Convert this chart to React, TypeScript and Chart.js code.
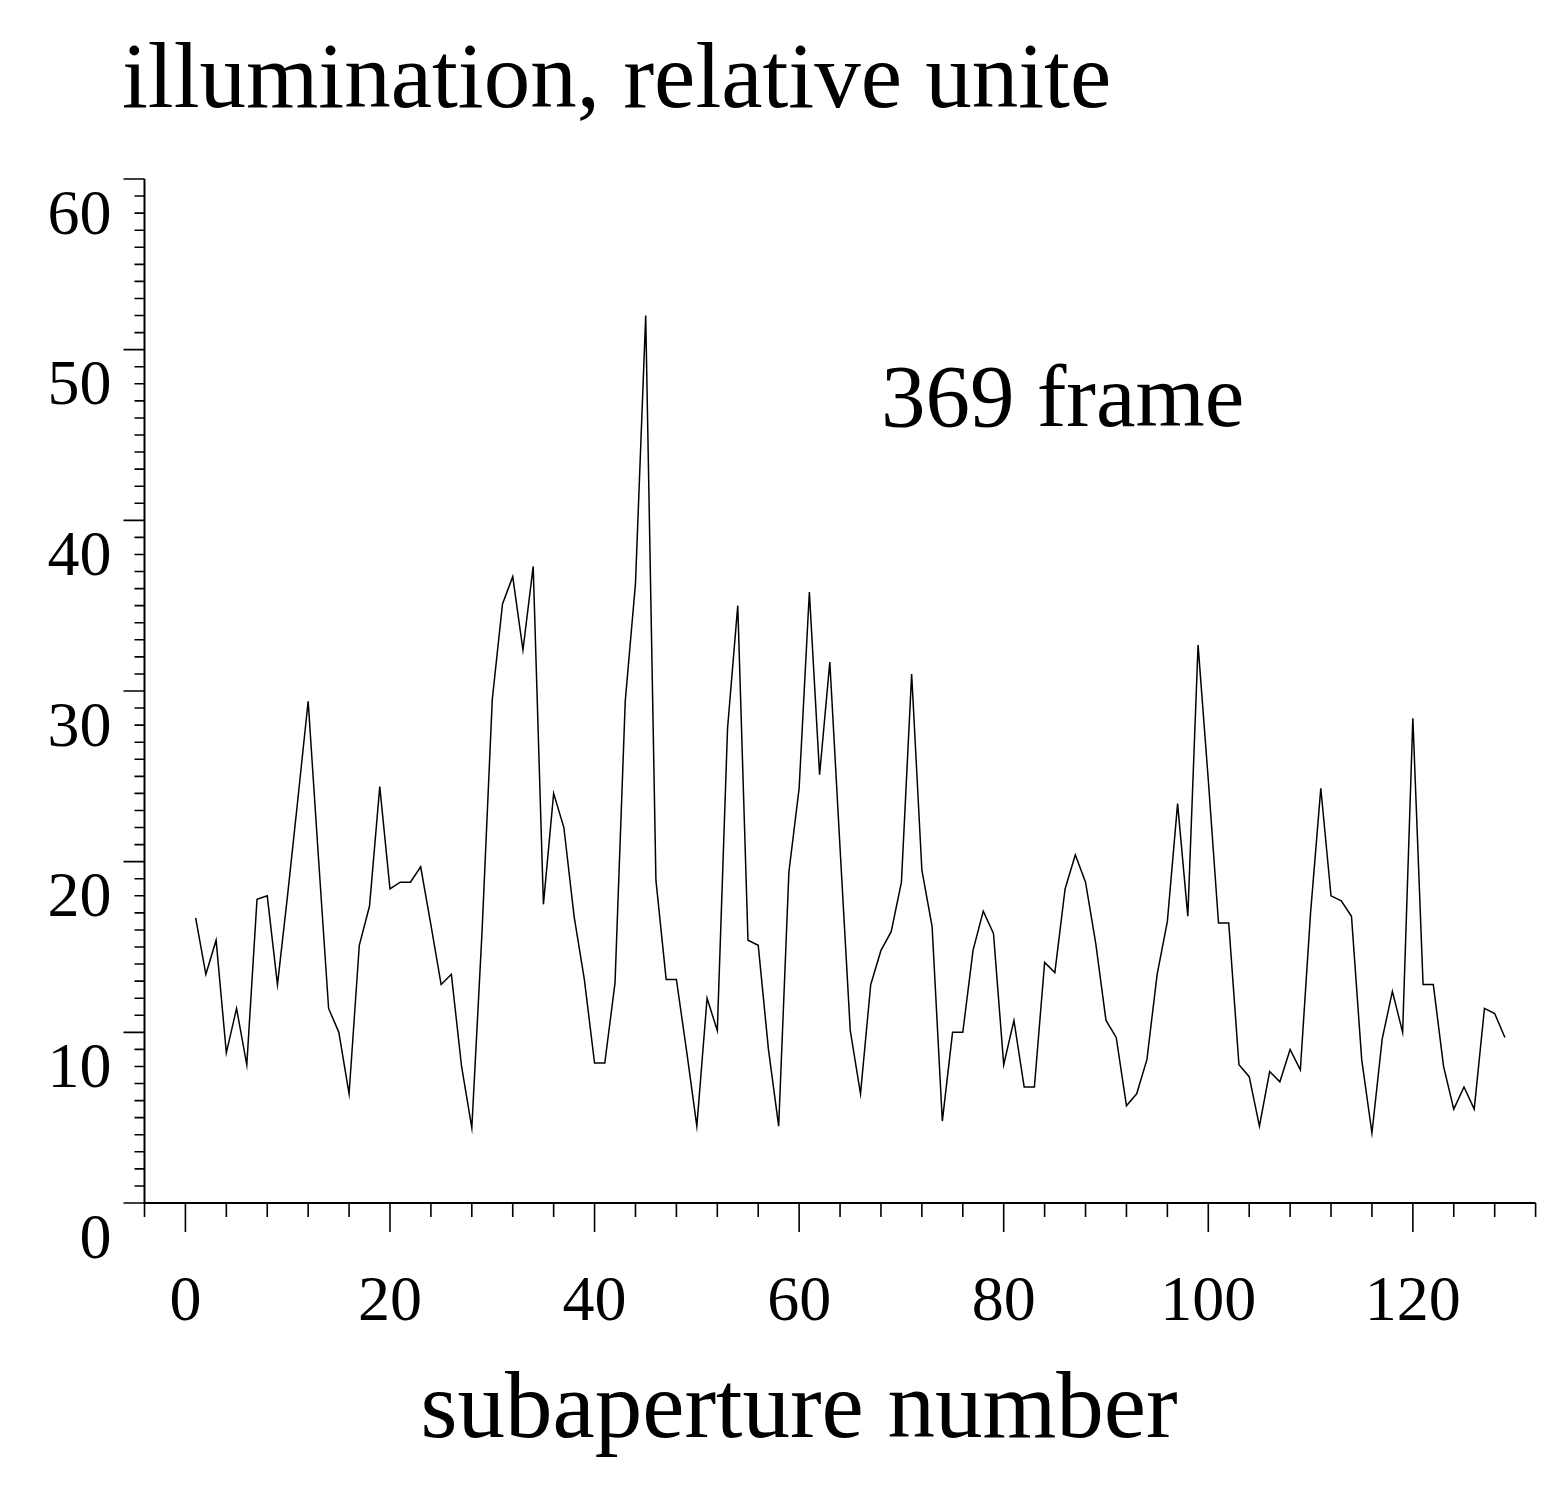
import React, { useEffect, useRef } from "react";
import { Chart, registerables } from "chart.js";

Chart.register(...registerables);

// illumination of subapertures 1..129 (relative units), frame 369
const illumination: number[] = [
  16.7, 13.4, 15.4, 8.8, 11.4, 8.1, 17.8, 18.0, 12.8, 18.1,
  23.7, 29.4, 20.3, 11.4, 10.0, 6.4, 15.1, 17.4, 24.4, 18.4,
  18.8, 18.8, 19.7, 16.3, 12.8, 13.4, 8.0, 4.4, 15.9, 29.5,
  35.1, 36.7, 32.4, 37.3, 17.5, 24.0, 22.0, 16.8, 13.1, 8.2,
  8.2, 12.9, 29.4, 36.3, 52.0, 18.9, 13.1, 13.1, 8.9, 4.5,
  12.0, 10.1, 27.8, 35.0, 15.4, 15.1, 9.0, 4.5, 19.4, 24.3,
  35.8, 25.1, 31.7, 20.8, 10.1, 6.4, 12.8, 14.8, 15.9, 18.8,
  31.0, 19.5, 16.2, 4.8, 10.0, 10.0, 14.8, 17.1, 15.8, 8.1,
  10.7, 6.8, 6.8, 14.1, 13.5, 18.4, 20.4, 18.8, 15.2, 10.7,
  9.7, 5.7, 6.4, 8.4, 13.4, 16.5, 23.4, 16.8, 32.7, 24.8,
  16.4, 16.4, 8.1, 7.4, 4.5, 7.7, 7.1, 9.0, 7.8, 17.0,
  24.3, 18.0, 17.7, 16.8, 8.4, 4.1, 9.6, 12.4, 10.0, 28.4,
  12.8, 12.8, 8.0, 5.5, 6.8, 5.5, 11.4, 11.1, 9.7,
];
const firstSubaperture = 1;

const xTickLabels: number[] = [0, 20, 40, 60, 80, 100, 120];
const yTickLabels: number[] = [0, 10, 20, 30, 40, 50, 60];

const chartTitle = "illumination, relative unite";
const xAxisTitle = "subaperture number";
const frameLabel = "369 frame";

const FONT = "'Liberation Serif', 'Times New Roman', serif";
const W = 1568;
const H = 1495;

const mapleAxes = {
  id: "mapleAxes",
  afterDraw(chart: any) {
    const { ctx, chartArea, scales } = chart;
    const xs = scales.x;
    const ys = scales.y;
    ctx.save();
    ctx.strokeStyle = "#000";
    ctx.lineCap = "butt";
    // axis lines
    ctx.lineWidth = 2;
    ctx.beginPath();
    ctx.moveTo(chartArea.left, chartArea.top);
    ctx.lineTo(chartArea.left, chartArea.bottom);
    ctx.lineTo(chartArea.right, chartArea.bottom);
    ctx.stroke();
    // tick marks
    ctx.lineWidth = 1.6;
    ctx.beginPath();
    for (const t of ys.ticks) {
      const py = ys.getPixelForValue(t.value);
      const len = yTickLabels.includes(t.value) ? 21 : 10;
      ctx.moveTo(chartArea.left - len, py);
      ctx.lineTo(chartArea.left, py);
    }
    for (const t of xs.ticks) {
      const px = xs.getPixelForValue(t.value);
      const len = xTickLabels.includes(t.value) ? 29 : 14;
      ctx.moveTo(px, chartArea.bottom);
      ctx.lineTo(px, chartArea.bottom + len);
    }
    ctx.stroke();

    // texts
    ctx.fillStyle = "#000";
    ctx.textBaseline = "alphabetic";
    ctx.textAlign = "left";
    ctx.font = `93px ${FONT}`;
    ctx.fillText(chartTitle, 122, 107);

    ctx.textAlign = "center";
    ctx.font = `95px ${FONT}`;
    ctx.fillText(xAxisTitle, xs.getPixelForValue(60), 1437);

    ctx.textAlign = "left";
    ctx.font = `89px ${FONT}`;
    ctx.fillText(frameLabel, xs.getPixelForValue(68), ys.getPixelForValue(45.5));
    ctx.restore();
  },
};

export default function App() {
  const canvasRef = useRef<HTMLCanvasElement | null>(null);

  useEffect(() => {
    const canvas = canvasRef.current;
    if (!canvas) return;
    const points = illumination.map((v, i) => ({ x: firstSubaperture + i, y: v }));
    const chart = new Chart(canvas, {
      type: "line",
      data: {
        datasets: [
          {
            data: points,
            borderColor: "#000",
            borderWidth: 1.5,
            pointRadius: 0,
            tension: 0,
            fill: false,
          },
        ],
      },
      options: {
        animation: false,
        responsive: false,
        devicePixelRatio: 1,
        layout: { padding: { left: 0, top: 179, right: 32.4, bottom: 0 } },
        plugins: {
          legend: { display: false },
          title: { display: false },
          tooltip: { enabled: false },
        },
        scales: {
          x: {
            type: "linear",
            min: -4,
            max: 132,
            grid: { display: false, drawTicks: false },
            border: { display: false },
            ticks: {
              stepSize: 4,
              autoSkip: false,
              maxRotation: 0,
              minRotation: 0,
              padding: 0,
              color: "#000",
              font: { family: FONT, size: 64, lineHeight: 3.14 },
              callback: (v: any) => (xTickLabels.includes(Number(v)) ? String(v) : ""),
            },
            afterFit: (scale: any) => {
              scale.height = H - 1203;
            },
          },
          y: {
            type: "linear",
            min: 0,
            max: 60,
            grid: { display: false, drawTicks: false },
            border: { display: false },
            ticks: {
              stepSize: 1,
              autoSkip: false,
              padding: 33,
              labelOffset: 38,
              color: "#000",
              font: { family: FONT, size: 64, lineHeight: 1.2 },
              callback: (v: any) => (yTickLabels.includes(Number(v)) ? String(v) : ""),
            },
            afterFit: (scale: any) => {
              scale.width = 144.5;
            },
          },
        },
      },
      plugins: [mapleAxes],
    });
    return () => chart.destroy();
  }, []);

  return (
    <div style={{ position: "absolute", left: 0, top: 0, width: W, height: H, background: "#fff" }}>
      <canvas ref={canvasRef} width={W} height={H} style={{ display: "block", width: W, height: H }} />
    </div>
  );
}
